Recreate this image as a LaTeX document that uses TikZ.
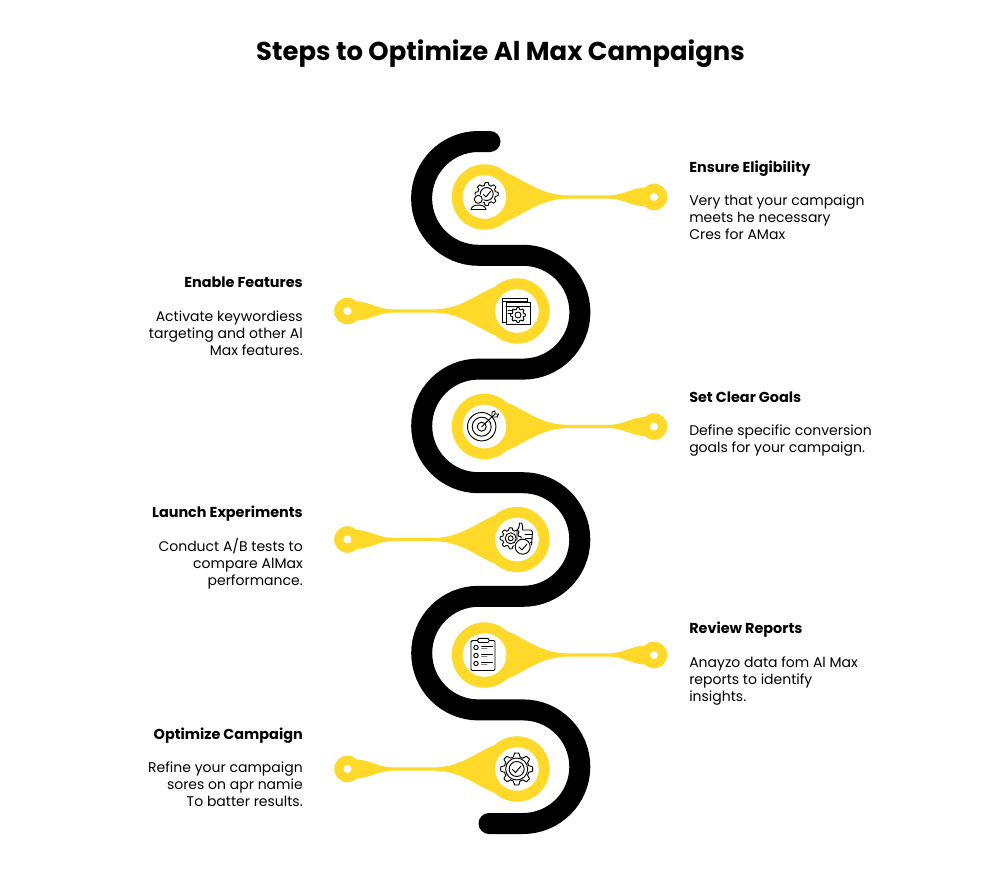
\documentclass[tikz,border=0pt]{standalone}
\usepackage{fontspec}
\setmainfont{Poppins}
\definecolor{pinyellow}{RGB}{255,217,41}
\tikzset{
  pathline/.style={line width=15.75pt,line cap=round,black},
  pinfill/.style={fill=pinyellow,draw=none},
  iconline/.style={line width=0.7pt,black,line join=round,line cap=round},
  headtext/.style={font=\fontsize{10.8pt}{12.75pt}\selectfont\bfseries,inner sep=0pt},
  bodyl/.style={font=\fontsize{10.5pt}{12.75pt}\selectfont,align=left,anchor=north west,inner sep=0pt},
  bodyr/.style={font=\fontsize{10.5pt}{12.75pt}\selectfont,align=right,anchor=north east,inner sep=0pt},
}
% big circle at 0,0 and small circle to the right, flip with xscale=-1
\newcommand{\pinshape}[3]{
\begin{scope}[shift={(#1,#2)},xscale=#3]
\fill [pinfill] (0,0) circle (32.7);
\fill [pinfill] (22,-24.2) .. controls (40,-17) and (55,-3) .. (80,-1.7) -- (126,-1.7) .. controls (138,-2) and (148,-9) .. (160,-9.5) -- (160,9.5) .. controls (148,9) and (138,2) .. (126,1.7) -- (80,1.7) .. controls (55,3) and (40,17) .. (22,24.2) -- cycle;
\fill [pinfill] (169.5,0) circle (13.3);
\fill [white] (0,0) circle (21.8);
\fill [white] (169.5,0) circle (4);
\end{scope}
}
\newcommand{\gearicon}[3]{
\draw [iconline] plot [domain=0:360,samples=145] ({#1+cos(\x)*#3*(0.89+0.11*min(1,max(-1,2*cos(8*\x))))},{#2+sin(\x)*#3*(0.89+0.11*min(1,max(-1,2*cos(8*\x))))}) -- cycle;
}

\begin{document}
\begin{tikzpicture}[x=0.75pt,y=0.75pt,yscale=-1,xscale=1]
\useasboundingbox (0,0) rectangle (1001,893);

% title
\node [font=\fontsize{19.4pt}{22pt}\selectfont\bfseries,inner sep=0pt,anchor=base] (title) at (500.5,60) {Steps to Optimize Al Max Campaigns};

% black path
\draw [pathline] (490,141.5) -- (478.5,141.5) arc (270:90:56.9) -- (523,255.3) arc (-90:90:56.9) -- (478.5,369.1) arc (270:90:56.8) -- (523,482.7) arc (-90:90:56.8) -- (478.5,596.3) arc (270:90:56.8) -- (523,709.9) arc (-90:90:56.8) -- (489,823.5);

% pins
\pinshape{484.5}{197}{1}
\pinshape{517}{311}{-1}
\pinshape{484.5}{426.5}{1}
\pinshape{517}{539.5}{-1}
\pinshape{484.5}{655}{1}
\pinshape{517}{769}{-1}

% icon person and gear
\gearicon{486.7}{194}{11.5}
\draw [iconline] (486.7,194) circle (6.5);
\draw [iconline] (483.5,194.5) -- (486,197) -- (490.5,191.5);
\fill [white] (478.3,199.3) circle (5.5);
\draw [iconline] (478.3,199.3) circle (4);
\fill [white] (471,210) -- (471,208) .. controls (472,203) and (485,203) .. (486,208) -- (486,210) -- cycle;
\draw [iconline] (471,209.5) .. controls (472,203.5) and (485,203.5) .. (486,209.5) -- cycle;

% icon windows and gear
\draw [iconline] (502.5,298) rectangle (527,322.5);
\draw [iconline] (502.5,301) -- (527,301);
\fill [white] (506,302) rectangle (530.7,324);
\draw [iconline] (506,302) rectangle (530.7,324);
\draw [iconline] (506,306.5) -- (530.7,306.5);
\draw [iconline] (508,310) -- (513,310);
\draw [iconline] (508,313) -- (511,313);
\gearicon{518}{315}{7.5}
\draw [iconline] (518,315) circle (3);

% icon target
\draw [iconline] (481.7,426.7) circle (14.2);
\draw [iconline] (481.7,426.7) circle (9.5);
\draw [iconline] (481.7,426.7) circle (4.5);
\draw [iconline] (481.7,426.7) -- (495,414);
\draw [iconline] (492,412) -- (492,417) -- (497,417) -- (498.5,414) -- (495,414) -- (495,411) -- cycle;

% icon gear and thumb
\gearicon{510.7}{538.3}{10.5}
\draw [iconline] (510.7,538.3) circle (5.5);
\draw [iconline] (510.7,538.3) circle (2.5);
\draw [iconline] (517,543) -- (517,531) .. controls (519,528) and (519.5,526) .. (519.5,523) .. controls (522,522) and (523,525) .. (522.5,530) -- (531,530) -- (532.5,532) -- (531.5,545) -- (527,545);
\draw [iconline] (525,534) -- (532,534);
\draw [iconline] (525,538) -- (532,538);
\draw [iconline] (525,542) -- (532,542);
\fill [white] (522.7,546.7) circle (8.5);
\draw [iconline] (522.7,546.7) circle (7.5);
\draw [iconline] (519,547) -- (522,550) -- (527,544);

% icon clipboard
\draw [iconline,rounded corners=1pt] (471,640.5) rectangle (495,670.5);
\fill [white] (477.7,638.3) rectangle (489,642.5);
\draw [iconline,rounded corners=1pt] (477.7,638.3) rectangle (489,642.5);
\foreach \rowy in {647.5,655.5,663.5}{
\draw [iconline] (476,\rowy) circle (2.2);
\draw [iconline] (481.5,\rowy-1) -- (492.5,\rowy-1);
\draw [iconline,gray] (481.5,\rowy+1.3) -- (487,\rowy+1.3);
}

% icon gear and check
\gearicon{516.7}{769}{16}
\draw [iconline] (516.7,769) circle (11);
\draw [iconline] (516.7,769) circle (7.5);
\draw [iconline] (512.5,769.5) -- (515.5,772.5) -- (521,766);

% right hand text
\node [headtext,anchor=base west] (eligibility) at (689,172.3) {Ensure Eligibility};
\node [bodyl] (eligibilitytext) at (689,195) {Very that your campaign\\meets he necessary\\Cres for AMax};
\node [headtext,anchor=base west] (goals) at (689,402) {Set Clear Goals};
\node [bodyl] (goalstext) at (689,425) {Define specific conversion\\goals for your campaign.};
\node [headtext,anchor=base west] (reports) at (689,633) {Review Reports};
\node [bodyl] (reportstext) at (689,656.5) {Anayzo data fom Al Max\\reports to identify\\insights.};

% left hand text
\node [headtext,anchor=base east] (features) at (303,287) {Enable Features};
\node [bodyr] (featurestext) at (303,311) {Activate keywordiess\\targeting and other Al\\Max features.};
\node [headtext,anchor=base east] (experiments) at (303,517) {Launch Experiments};
\node [bodyr] (experimentstext) at (303,538.5) {Conduct A/B tests to\\compare AlMax\\performance.};
\node [headtext,anchor=base east] (campaign) at (303,739) {Optimize Campaign};
\node [bodyr] (campaigntext) at (303,762) {Refine your campaign\\sores on apr namie\\To batter results.};

\end{tikzpicture}
\end{document}
